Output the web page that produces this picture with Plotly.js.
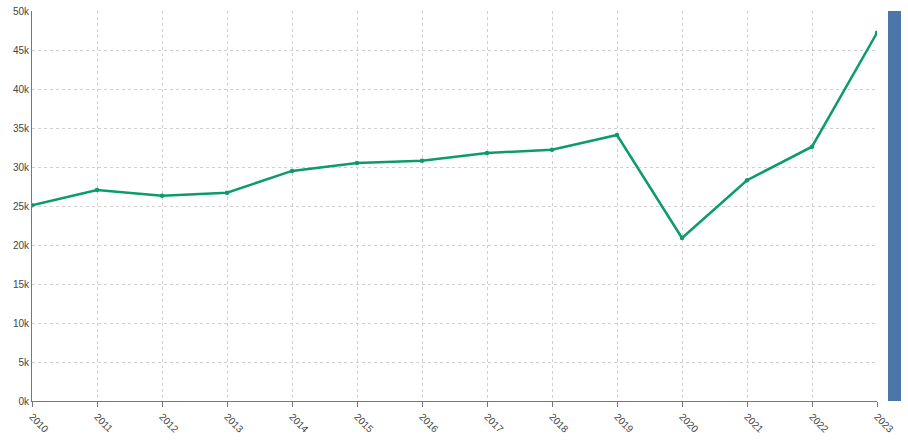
<!DOCTYPE html>
<html><head><meta charset="utf-8">
<script src="https://cdn.plot.ly/plotly-3.0.1.min.js"></script>
<style>html,body{margin:0;padding:0;background:#fff}#chart{width:908px;height:441px}</style>
</head><body><div id="chart"></div>
<script>
const years = ['2010','2011','2012','2013','2014','2015','2016','2017','2018','2019','2020','2021','2022','2023'];
const values = [25100, 27050, 26300, 26700, 29500, 30500, 30800, 31800, 32200, 34100, 20900, 28300, 32600, 47200];
const yTickVals = [0, 5000, 10000, 15000, 20000, 25000, 30000, 35000, 40000, 45000, 50000];
const yTickText = ['0k','5k','10k','15k','20k','25k','30k','35k','40k','45k','50k'];

const trace = {
  x: years, y: values, type: 'scatter', mode: 'lines+markers',
  line: {color: '#0c9b6c', width: 2.5},
  marker: {color: '#0c9b6c', size: 4.5},
  hoverinfo: 'x+y'
};
const layout = {
  width: 908, height: 441,
  margin: {l: 32, r: 31, t: 11, b: 40},
  paper_bgcolor: '#fff', plot_bgcolor: '#fff',
  showlegend: false,
  font: {family: 'Liberation Sans, Arial, sans-serif', size: 10, color: '#444'},
  xaxis: {
    type: 'category', range: [0, 13], tickangle: 45,
    showgrid: true, gridcolor: '#d0d0d0', griddash: '3px,3px', gridwidth: 1,
    showline: true, linecolor: '#777', linewidth: 1,
    ticks: 'outside', ticklen: 5, tickcolor: '#777',
    zeroline: false, automargin: false
  },
  yaxis: {
    range: [0, 50000], tickvals: yTickVals, ticktext: yTickText,
    showgrid: true, gridcolor: '#d0d0d0', griddash: '3px,3px', gridwidth: 1,
    showline: true, linecolor: '#777', linewidth: 1,
    ticks: '', zeroline: false, automargin: false
  },
  shapes: [{
    type: 'rect', xref: 'paper', yref: 'paper',
    x0: 1.0130, x1: 1.0284, y0: 0, y1: 1,
    fillcolor: '#4a76a8', line: {width: 0}
  }]
};
Plotly.newPlot('chart', [trace], layout, {displayModeBar: false, staticPlot: true});
</script></body></html>
